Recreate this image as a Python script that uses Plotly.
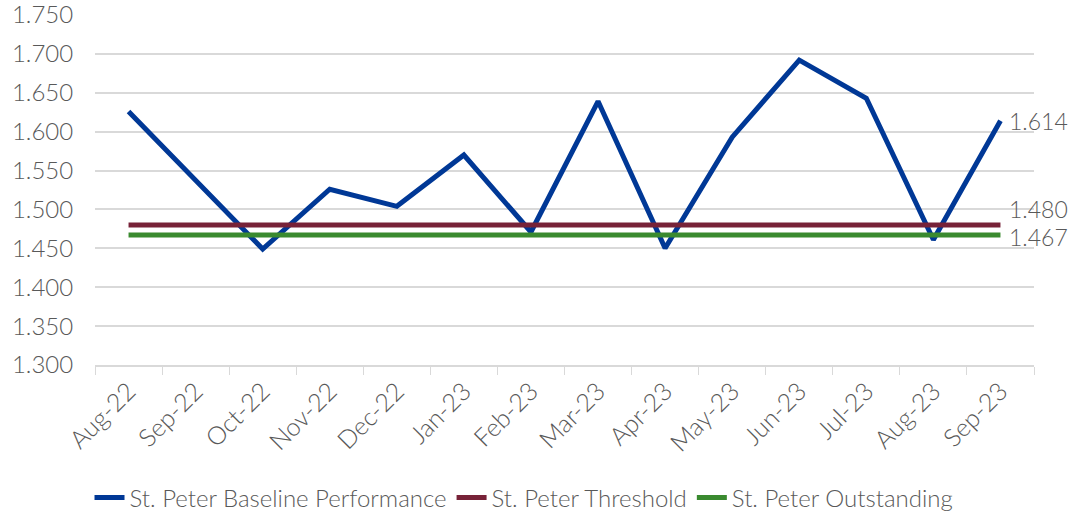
import plotly.graph_objects as go

months = ["Aug-22", "Sep-22", "Oct-22", "Nov-22", "Dec-22", "Jan-23", "Feb-23",
          "Mar-23", "Apr-23", "May-23", "Jun-23", "Jul-23", "Aug-23", "Sep-23"]
baseline = [1.626, 1.537, 1.449, 1.526, 1.504, 1.570, 1.471,
            1.639, 1.450, 1.593, 1.692, 1.643, 1.461, 1.614]
threshold = [1.480] * len(months)
outstanding = [1.467] * len(months)
y_ticks = [1.30, 1.35, 1.40, 1.45, 1.50, 1.55, 1.60, 1.65, 1.70, 1.75]

series = [
    ("St. Peter Baseline Performance", baseline, "#003896", 0),
    ("St. Peter Threshold", threshold, "#772238", 16),
    ("St. Peter Outstanding", outstanding, "#3a8a2f", -2),
]

FONT = "Lato"
GREY = "#595959"
fig = go.Figure()
for name, vals, color, yshift in series:
    fig.add_trace(go.Scatter(
        x=months, y=vals, name=name, mode="lines",
        line=dict(color=color, width=5),
    ))
    fig.add_annotation(
        x=months[-1], y=vals[-1], text=f"{vals[-1]:.3f}", showarrow=False,
        xanchor="left", yanchor="middle", xshift=8, yshift=yshift,
        borderpad=0,
        font=dict(size=23, color=GREY, family=FONT, weight=300),
    )

fig.update_layout(
    width=1076, height=515,
    margin=dict(l=95, r=42, t=15, b=150, autoexpand=False),
    plot_bgcolor="white", paper_bgcolor="white",
    font=dict(family=FONT, color=GREY, size=24, weight=300),
    showlegend=True,
    legend=dict(orientation="h", x=0.487, xanchor="center", xref="container",
                y=0.033, yanchor="middle", yref="container",
                font=dict(size=24, weight=300), traceorder="normal", itemwidth=30),
)
fig.update_xaxes(
    type="category", tickangle=-45, showgrid=False, automargin=False,
    showline=True, linecolor="#d9d9d9", linewidth=1.5,
    ticks="outside", tickson="boundaries", ticklen=8, tickcolor="#d9d9d9",
    tickfont=dict(size=25, weight=300),
    range=[-0.5, len(months) - 0.5],
)
fig.update_yaxes(
    range=[1.3, 1.75], tickmode="array", tickvals=y_ticks,
    ticktext=[f"{v:.3f}" for v in y_ticks], automargin=False,
    ticklabeloverflow="allow",
    showgrid=True, gridcolor="#d9d9d9", gridwidth=1.5,
    zeroline=False, showline=False, tickfont=dict(size=24, weight=300),
    ticks="outside", ticklen=16, tickcolor="rgba(0,0,0,0)",
)
fig.write_html("out.html", config={"displayModeBar": False},
               post_script="document.body.style.margin='0';")
